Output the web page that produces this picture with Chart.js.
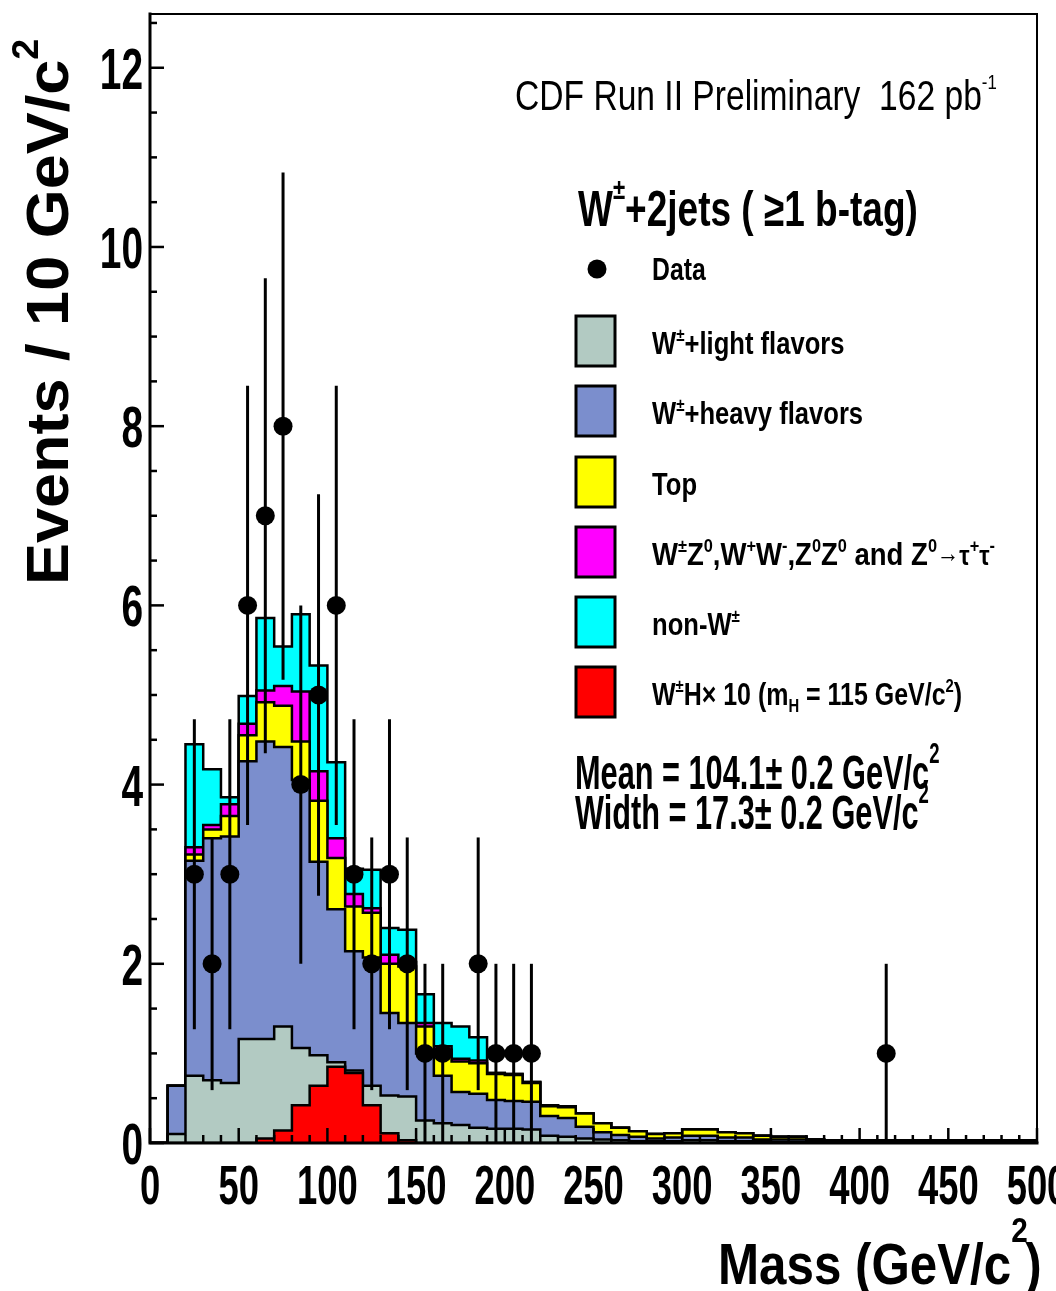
<!DOCTYPE html>
<html>
<head>
<meta charset="utf-8">
<title>W+2jets dijet mass</title>
<script src="https://cdn.jsdelivr.net/npm/chart.js@4.4.1/dist/chart.umd.min.js"></script>
<style>
  html, body { margin: 0; padding: 0; background: #ffffff; }
  #wrap { width: 1056px; height: 1291px; position: relative; }
  canvas { display: block; }
</style>
</head>
<body>
<div id="wrap"><canvas id="chart" width="1056" height="1291"></canvas></div>
<script>
// Dijet invariant mass, 10 GeV/c^2 bins (lower edges), 0 - 500
const binLow = [0, 10, 20, 30, 40, 50, 60, 70, 80, 90,
                100, 110, 120, 130, 140, 150, 160, 170, 180, 190,
                200, 210, 220, 230, 240, 250, 260, 270, 280, 290,
                300, 310, 320, 330, 340, 350, 360, 370, 380, 390,
                400, 410, 420, 430, 440, 450, 460, 470, 480, 490];
const binTop = 500;

// Expected events per bin, one array per background component (stacked bottom to top)
const lightFlavor = [0, 0.10, 0.75, 0.70, 0.67, 1.16, 1.16, 1.30, 1.06, 0.98,
                     0.90, 0.81, 0.64, 0.53, 0.52, 0.25, 0.22, 0.20, 0.17, 0.16,
                     0.16, 0.15, 0.08, 0.07, 0.05, 0.04, 0.03, 0.02, 0.02, 0.02,
                     0.03, 0.03, 0.02, 0.02, 0.02, 0.01, 0.01, 0.01, 0.01, 0.01,
                     0.01, 0.01, 0.01, 0.01, 0.01, 0.01, 0.01, 0.01, 0.01, 0.01];
const heavyFlavor = [0, 0.54, 2.40, 2.70, 2.75, 3.10, 3.32, 3.12, 2.99, 2.16,
                     1.71, 1.33, 1.43, 0.92, 0.82, 0.75, 0.53, 0.37, 0.38, 0.32,
                     0.31, 0.31, 0.22, 0.21, 0.13, 0.08, 0.06, 0.05, 0.03, 0.04,
                     0.05, 0.05, 0.04, 0.04, 0.02, 0.03, 0.03, 0.01, 0.01, 0.01,
                     0.01, 0.01, 0.01, 0.01, 0.01, 0.01, 0.01, 0.01, 0.01, 0.01];
const topPair     = [0, 0, 0.07, 0.10, 0.23, 0.29, 0.44, 0.46, 0.43, 0.68,
                     0.57, 0.50, 0.50, 0.55, 0.63, 0.30, 0.29, 0.34, 0.34, 0.29,
                     0.29, 0.21, 0.11, 0.12, 0.15, 0.10, 0.08, 0.06, 0.05, 0.05,
                     0.07, 0.07, 0.06, 0.05, 0.04, 0.03, 0.03, 0.02, 0.01, 0.01,
                     0.01, 0.01, 0.01, 0.01, 0.01, 0.01, 0.01, 0.01, 0.01, 0.01];
const diboson     = [0, 0, 0.08, 0.05, 0.13, 0.13, 0.13, 0.22, 0.56, 0.33,
                     0.22, 0.14, 0.05, 0.10, 0.05, 0.04, 0.04, 0.03, 0.03, 0.01,
                     0.01, 0.01, 0.01, 0.01, 0, 0, 0, 0, 0, 0,
                     0, 0, 0, 0, 0, 0, 0, 0, 0, 0,
                     0, 0, 0, 0, 0, 0, 0, 0, 0, 0];
const nonW        = [0, 0, 1.15, 0.62, 0.08, 0.31, 0.81, 0.44, 0.86, 1.18,
                     0.85, 0.28, 0.43, 0.30, 0.36, 0.32, 0.26, 0.36, 0.26, 0,
                     0, 0, 0, 0, 0, 0, 0, 0, 0, 0,
                     0, 0, 0, 0, 0, 0, 0, 0, 0, 0,
                     0, 0, 0, 0, 0, 0, 0, 0, 0, 0];
// W H signal (x10), drawn on its own, not stacked
const whSignal    = [0, 0, 0, 0, 0, 0, 0.05, 0.14, 0.42, 0.64,
                     0.85, 0.78, 0.42, 0.11, 0.03, 0, 0, 0, 0, 0,
                     0, 0, 0, 0, 0, 0, 0, 0, 0, 0,
                     0, 0, 0, 0, 0, 0, 0, 0, 0, 0,
                     0, 0, 0, 0, 0, 0, 0, 0, 0, 0];

// Observed events: bin centre, count, statistical error
const dataMass   = [25, 35, 45, 55, 65, 75, 85, 95, 105, 115, 125, 135, 145, 155, 165, 185, 195, 205, 215, 415];
const dataCounts = [3, 2, 3, 6, 7, 8, 4, 5, 6, 3, 2, 3, 2, 1, 1, 2, 1, 1, 1, 1];
const dataErr    = [1.73, 1.41, 1.73, 2.45, 2.65, 2.83, 2.00, 2.24, 2.45, 1.73, 1.41, 1.73, 1.41, 1.00, 1.00, 1.41, 1.00, 1.00, 1.00, 1.00];

// Axis ticks
const yMajorTicks = [0, 2, 4, 6, 8, 10, 12];
const yMinorStep = 0.5;
const xMajorTicks = [0, 50, 100, 150, 200, 250, 300, 350, 400, 450, 500];
const xMinorStep = 10;
const yMax = 12.6;

const COLORS = {
  light: '#b2cac2',
  heavy: '#7b8ecd',
  top: '#ffff00',
  diboson: '#ff00ff',
  nonW: '#00ffff',
  signal: '#ff0000'
};

const FAMILY = '"Liberation Sans", Arial, Helvetica, sans-serif';

// Histogram outline points: one point per lower bin edge plus the closing edge.
// With Chart.js 'before' stepping each value is held until the next edge.
function steps(vals) {
  const pts = binLow.map((x, i) => ({ x: x, y: vals[i] }));
  pts.push({ x: binTop, y: vals[vals.length - 1] });
  return pts;
}

function histDataset(label, vals, color, fill, stack, order) {
  return {
    type: 'line',
    label: label,
    data: steps(vals),
    stepped: 'before',
    fill: fill,
    backgroundColor: color,
    borderColor: '#000000',
    borderWidth: 2.5,
    pointRadius: 0,
    pointHoverRadius: 0,
    tension: 0,
    stack: stack,
    order: order
  };
}

// Text with superscripts / subscripts, optionally squeezed horizontally
function drawRich(ctx, x, y, segs, o) {
  const size = o.size;
  const sx = o.sx || 1;
  const weight = o.weight || 'bold';
  const parts = segs.map(s => (typeof s === 'string' ? { t: s } : Object.assign({}, s)));
  const fontFor = p => {
    const fs = (p.sup || p.sub) ? Math.round(size * (p.scale || 0.6)) : Math.round(size * (p.scale || 1));
    return weight + ' ' + fs + 'px ' + FAMILY;
  };
  ctx.save();
  ctx.translate(x, y);
  if (o.rotate) ctx.rotate(o.rotate);
  ctx.scale(sx, 1);
  ctx.fillStyle = '#000000';
  ctx.textBaseline = 'alphabetic';
  ctx.textAlign = 'left';
  let total = 0;
  parts.forEach(p => {
    ctx.font = fontFor(p);
    p.w = ctx.measureText(p.t).width;
    total += p.w + (p.adv || 0);
  });
  let cx = o.align === 'right' ? -total : (o.align === 'center' ? -total / 2 : 0);
  parts.forEach(p => {
    ctx.font = fontFor(p);
    const dy = p.sup ? -size * (p.rise || 0.42) : (p.sub ? size * 0.22 : (p.lift ? -size * p.lift : 0));
    ctx.fillText(p.t, cx, dy);
    cx += p.w + (p.adv || 0);
  });
  ctx.restore();
}

const DATA_INDEX = 6;

// Error bars under the data markers
const errorBars = {
  id: 'errorBars',
  beforeDatasetDraw(chart, args) {
    if (args.index !== DATA_INDEX) return;
    const ctx = chart.ctx;
    const xs = chart.scales.x, ys = chart.scales.y;
    ctx.save();
    ctx.strokeStyle = '#000000';
    ctx.lineWidth = 3;
    dataMass.forEach((m, i) => {
      const px = xs.getPixelForValue(m);
      const lo = ys.getPixelForValue(Math.max(0, dataCounts[i] - dataErr[i]));
      const hi = ys.getPixelForValue(dataCounts[i] + dataErr[i]);
      ctx.beginPath();
      ctx.moveTo(px, lo);
      ctx.lineTo(px, hi);
      ctx.stroke();
    });
    ctx.restore();
  }
};

// Frame, ticks, labels, titles and the in-plot legend
const decorations = {
  id: 'decorations',
  afterDraw(chart) {
    const ctx = chart.ctx;
    const xs = chart.scales.x, ys = chart.scales.y;
    const a = chart.chartArea;
    ctx.save();
    ctx.strokeStyle = '#000000';
    ctx.lineCap = 'square';

    // frame
    ctx.lineWidth = 2;
    ctx.beginPath();
    ctx.moveTo(a.left, a.top); ctx.lineTo(a.right, a.top); ctx.lineTo(a.right, a.bottom);
    ctx.stroke();
    ctx.lineWidth = 3;
    ctx.beginPath();
    ctx.moveTo(a.left, a.top); ctx.lineTo(a.left, a.bottom); ctx.lineTo(a.right, a.bottom);
    ctx.stroke();

    // y ticks (inside)
    ctx.lineWidth = 2.5;
    ctx.lineCap = 'butt';
    for (let v = 0; v <= yMax + 1e-9; v += yMinorStep) {
      const major = yMajorTicks.some(t => Math.abs(t - v) < 1e-6);
      const py = ys.getPixelForValue(v);
      ctx.beginPath();
      ctx.moveTo(a.left, py);
      ctx.lineTo(a.left + (major ? 14 : 7), py);
      ctx.stroke();
    }
    // x ticks (inside)
    for (let v = 0; v <= binTop + 1e-9; v += xMinorStep) {
      const major = xMajorTicks.some(t => Math.abs(t - v) < 1e-6);
      const px = xs.getPixelForValue(v);
      ctx.beginPath();
      ctx.moveTo(px, a.bottom);
      ctx.lineTo(px, a.bottom - (major ? 15 : 8));
      ctx.stroke();
    }

    // tick labels
    yMajorTicks.forEach(t => {
      drawRich(ctx, a.left - 7, ys.getPixelForValue(t) + 21, [String(t)], { size: 58, sx: 0.67, align: 'right' });
    });
    xMajorTicks.forEach(t => {
      drawRich(ctx, xs.getPixelForValue(t), a.bottom + 61, [String(t)], { size: 56, sx: 0.65, align: 'center' });
    });

    // axis titles
    drawRich(ctx, 68, 585, ['Events / 10 GeV/c', { t: '2', sup: true, rise: 0.5 }], { size: 60, sx: 1.05, rotate: -Math.PI / 2 });
    drawRich(ctx, 718, 1284, ['Mass (GeV/c', { t: '2', sup: true, rise: 0.72, adv: -3 }, ')'], { size: 58, sx: 0.85 });

    // header lines
    drawRich(ctx, 515, 110, ['CDF Run II Preliminary  162 pb', { t: '-1', sup: true, scale: 0.5, rise: 0.5 }], { size: 42, sx: 0.8, weight: 'normal' });
    drawRich(ctx, 578, 226, ['W', { t: '\u00b1', sup: true, rise: 0.55 }, '+2jets ( \u22651 b-tag)'], { size: 50, sx: 0.74 });

    // legend
    ctx.fillStyle = '#000000';
    ctx.beginPath();
    ctx.arc(597, 269, 9.5, 0, Math.PI * 2);
    ctx.fill();
    drawRich(ctx, 652, 280, ['Data'], { size: 31, sx: 0.8 });

    const boxes = [
      { y: 316, c: COLORS.light, sx: 0.8, label: ['W', { t: '\u00b1', sup: true }, '+light flavors'] },
      { y: 386, c: COLORS.heavy, sx: 0.8, label: ['W', { t: '\u00b1', sup: true }, '+heavy flavors'] },
      { y: 457, c: COLORS.top, sx: 0.8, label: ['Top'] },
      { y: 527, c: COLORS.diboson, sx: 0.86, label: ['W', { t: '\u00b1', sup: true }, 'Z', { t: '0', sup: true }, ',W', { t: '+', sup: true }, 'W', { t: '-', sup: true },
                                           ',Z', { t: '0', sup: true }, 'Z', { t: '0', sup: true }, ' and Z', { t: '0', sup: true },
                                           { t: '\u2192', scale: 0.8, lift: 0.1 }, { t: '\u03c4', scale: 0.85 }, { t: '+', sup: true }, { t: '\u03c4', scale: 0.85 }, { t: '-', sup: true }] },
      { y: 597, c: COLORS.nonW, sx: 0.8, label: ['non-W', { t: '\u00b1', sup: true }] },
      { y: 667, c: COLORS.signal, sx: 0.78, label: ['W', { t: '\u00b1', sup: true }, 'H\u00d7 10 (m', { t: 'H', sub: true }, ' = 115 GeV/c', { t: '2', sup: true }, ')'] }
    ];
    boxes.forEach(b => {
      ctx.fillStyle = b.c;
      ctx.fillRect(576, b.y, 39, 50);
      ctx.lineWidth = 3;
      ctx.strokeStyle = '#000000';
      ctx.strokeRect(576, b.y, 39, 50);
      drawRich(ctx, 652, b.y + 38, b.label, { size: 32, sx: b.sx });
    });

    // fit summary
    drawRich(ctx, 575, 789, ['Mean = 104.1\u00b1 0.2 GeV/c', { t: '2', sup: true, rise: 0.55 }], { size: 48, sx: 0.64 });
    drawRich(ctx, 575, 829, ['Width = 17.3\u00b1 0.2 GeV/c', { t: '2', sup: true, rise: 0.55 }], { size: 48, sx: 0.64 });

    ctx.restore();
  }
};

const ctx = document.getElementById('chart').getContext('2d');
new Chart(ctx, {
  type: 'line',
  data: {
    datasets: [
      histDataset('W\u00b1+light flavors', lightFlavor, COLORS.light, 'origin', 'bkg', 0),
      histDataset('W\u00b1+heavy flavors', heavyFlavor, COLORS.heavy, '-1', 'bkg', 0),
      histDataset('Top', topPair, COLORS.top, '-1', 'bkg', 0),
      histDataset('Diboson and Z\u2192\u03c4\u03c4', diboson, COLORS.diboson, '-1', 'bkg', 0),
      histDataset('non-W\u00b1', nonW, COLORS.nonW, '-1', 'bkg', 0),
      histDataset('W\u00b1H \u00d7 10', whSignal, COLORS.signal, 'origin', 'sig', -1),
      {
        type: 'scatter',
        label: 'Data',
        data: dataMass.map((m, i) => ({ x: m, y: dataCounts[i] })),
        showLine: false,
        pointRadius: 9.5,
        pointHoverRadius: 9.5,
        pointBackgroundColor: '#000000',
        pointBorderColor: '#000000',
        pointBorderWidth: 0,
        stack: 'obs',
        order: -2
      }
    ]
  },
  options: {
    responsive: false,
    animation: false,
    devicePixelRatio: 1,
    layout: { padding: { left: 150, right: 19, top: 14, bottom: 148 } },
    scales: {
      x: { type: 'linear', min: 0, max: binTop, display: false },
      y: { type: 'linear', min: 0, max: yMax, stacked: true, display: false }
    },
    plugins: {
      legend: { display: false },
      tooltip: { enabled: false },
      filler: { propagate: false }
    },
    events: []
  },
  plugins: [errorBars, decorations]
});
</script>
</body>
</html>
